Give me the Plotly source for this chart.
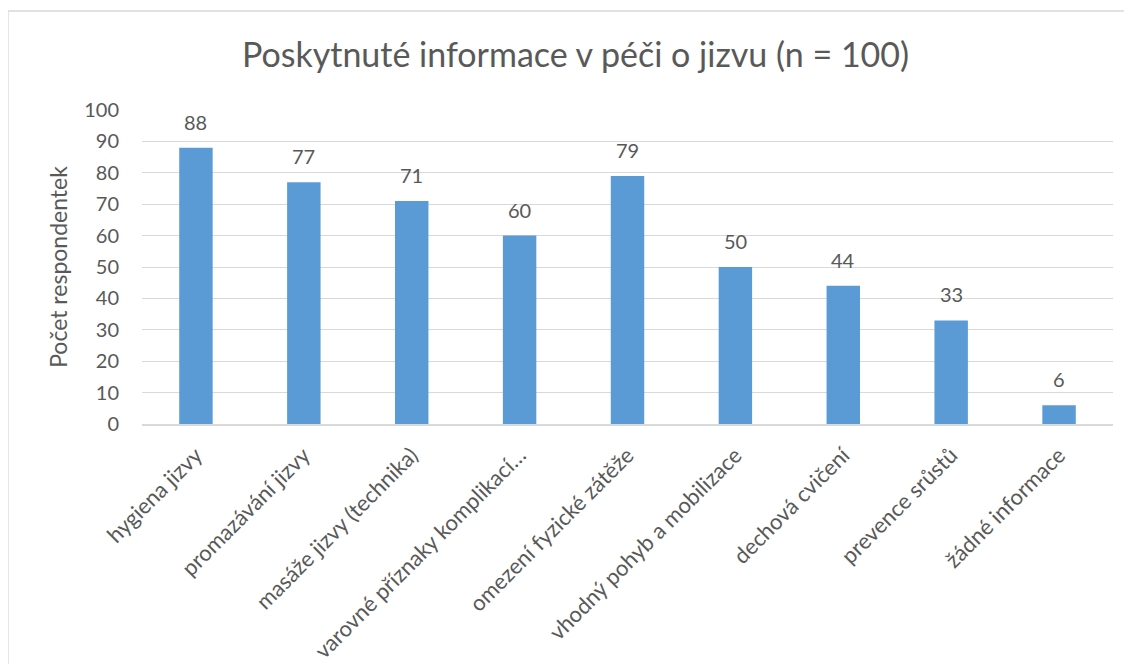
import plotly.graph_objects as go

categories = [
    "hygiena jizvy",
    "promazávání jizvy",
    "masáže jizvy (technika)",
    "varovné příznaky komplikací…",
    "omezení fyzické zátěže",
    "vhodný pohyb a mobilizace",
    "dechová cvičení",
    "prevence srůstů",
    "žádné informace",
]
values = [88, 77, 71, 60, 79, 50, 44, 33, 6]

title_text = "Poskytnuté informace v péči o jizvu (n = 100)"
y_title = "Počet respondentek"
y_ticks = [0, 10, 20, 30, 40, 50, 60, 70, 80, 90, 100]

FONT = "Lato, Carlito, 'Liberation Sans', sans-serif"
GREY = "#595959"

W, H = 1132, 664
# the page body adds an 8px offset; margins are set in figure coordinates
ml, mr, mt, mb = 134, 27, 102, 248

fig = go.Figure(
    go.Bar(
        x=categories,
        y=values,
        marker=dict(color="#5B9BD5", line=dict(width=0)),
        hoverinfo="x+y",
    )
)

for c, v in zip(categories, values):
    fig.add_annotation(
        x=c, y=v, text=str(v), showarrow=False, yanchor="bottom",
        yshift=12, font=dict(family=FONT, size=20, color=GREY),
    )

pw = W - ml - mr
ph = H - mt - mb
fig.add_shape(
    type="rect", xref="paper", yref="paper",
    x0=(0 - ml) / pw, x1=(1160 - ml) / pw,
    y0=(H - mb - 700) / ph, y1=(H - mb - 3) / ph,
    line=dict(color="#D9D9D9", width=1.3), fillcolor="rgba(0,0,0,0)",
    layer="below",
)

fig.update_layout(
    width=W, height=H,
    margin=dict(l=ml, r=mr, t=mt, b=mb, autoexpand=False),
    paper_bgcolor="white", plot_bgcolor="white",
    title=dict(text=title_text, x=567.5 / W, xref="container", xanchor="center",
               y=1 - 47 / H, yref="container", yanchor="middle",
               font=dict(family=FONT, size=34, color=GREY)),
    bargap=0.69,
    showlegend=False,
    font=dict(family=FONT, color=GREY),
    xaxis=dict(
        tickangle=-45, tickfont=dict(family=FONT, size=22, color=GREY),
        showline=True, linecolor="#D9D9D9", linewidth=1.5,
        ticks="", showgrid=False, ticklabelstandoff=8,
    ),
    yaxis=dict(
        range=[0, 100], tickvals=y_ticks, ticks="",
        tickfont=dict(family=FONT, size=20, color=GREY),
        showgrid=True, gridcolor="#D9D9D9", gridwidth=1.3,
        zeroline=False, showline=False, ticklabelstandoff=22,
        title=dict(text=y_title, font=dict(family=FONT, size=23, color=GREY), standoff=10),
    ),
)

fig.write_html("out.html")
